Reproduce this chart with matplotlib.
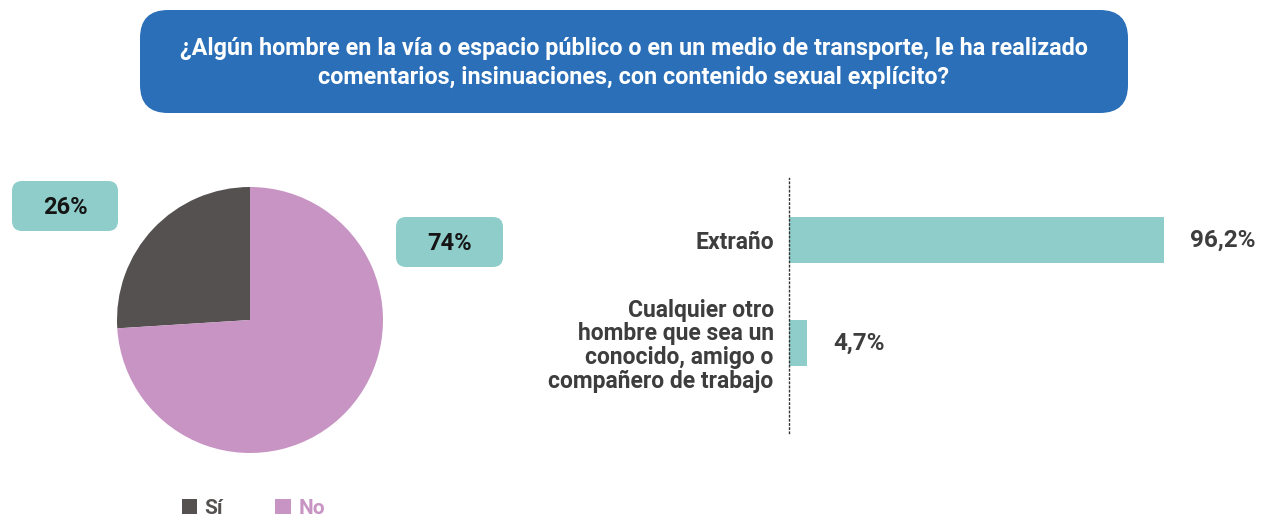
import numpy as np
import matplotlib.pyplot as plt
from matplotlib.patches import FancyBboxPatch

plt.rcParams['font.family'] = ['Roboto', 'DejaVu Sans']

# data
title = "¿Algún hombre en la vía o espacio público o en un medio de transporte, le ha realizado\ncomentarios, insinuaciones, con contenido sexual explícito?"
pie_labels = ["Sí", "No"]
pie_values = [26, 74]
pie_colors = ["#545150", "#c794c4"]

bar_labels = ["Extraño", "Cualquier otro\nhombre que sea un\nconocido, amigo o\ncompañero de trabajo"]
bar_values = [96.2, 4.7]
bar_text = ["96,2%", "4,7%"]

W, H = 1263, 517
teal = "#8ecdc9"
fig = plt.figure(figsize=(W / 100, H / 100), dpi=100)

# background layer in pixel coords
bg = fig.add_axes([0, 0, 1, 1])
bg.set_xlim(0, W)
bg.set_ylim(H, 0)
bg.axis('off')

# title box
bg.add_patch(FancyBboxPatch((140, 10), 988, 103, boxstyle="round,pad=0,rounding_size=28",
                            fc="#2a6fb8", ec="none"))
bg.text(634, 63, title, ha='center', va='center', color='white', fontsize=16.8,
        fontweight='bold', linespacing=1.35)

# pie labels boxes
def label_box(x0, y0, w, h, txt):
    bg.add_patch(FancyBboxPatch((x0, y0), w, h, boxstyle="round,pad=0,rounding_size=10",
                                fc=teal, ec="none"))
    bg.text(x0 + w / 2, y0 + h / 2 + 1, txt, ha='center', va='center', fontsize=17,
            fontweight='bold', color='#151515')

label_box(12, 181, 106, 50, f"{pie_values[0]}%")
label_box(396, 217, 107, 50, f"{pie_values[1]}%")

# pie
cx, cy, r = 250, 320, 133
pax = fig.add_axes([(cx - r) / W, (H - cy - r) / H, 2 * r / W, 2 * r / H])
wedges, _ = pax.pie(pie_values, colors=pie_colors, startangle=90, counterclock=True,
                    radius=1, wedgeprops=dict(linewidth=0))
pax.set_xlim(-1, 1)
pax.set_ylim(-1, 1)
pax.set_aspect('auto')

leg = fig.legend(wedges, pie_labels, loc='center left', bbox_to_anchor=(163 / W, 1 - 508 / H),
                 ncol=2, frameon=False, handlelength=0.75, handleheight=0.75,
                 handletextpad=0.35, columnspacing=2.5, prop=dict(weight='bold', size=15))
for t, c in zip(leg.get_texts(), pie_colors):
    t.set_color(c)

# bars
x_left, y_top, y_bot = 789, 178, 433
px_per_unit = (1164 - 789) / 96.2
bax = fig.add_axes([x_left / W, (H - y_bot) / H, (W - x_left) / W, (y_bot - y_top) / H])
ypos = np.arange(len(bar_values))
bax.barh(ypos, bar_values, height=0.447, color=teal)
bax.set_xlim(0, (W - x_left) / px_per_unit)
bax.set_ylim(1 + 90 / 103, -62 / 103)
for s in ['top', 'right', 'bottom']:
    bax.spines[s].set_visible(False)
bax.spines['left'].set_linestyle((0, (1, 2)))
bax.spines['left'].set_color('#333333')
bax.spines['left'].set_linewidth(1)
bax.set_xticks([])
bax.set_yticks(ypos)
bax.set_yticklabels(bar_labels, fontsize=16.5, fontweight='bold', color='#3d3d3d',
                    linespacing=1.05)
bax.tick_params(axis='y', length=0, pad=11)
bax.patch.set_alpha(0)
for y, v, t in zip(ypos, bar_values, bar_text):
    bax.text(v + 26 / px_per_unit, y, t, va='center', ha='left', fontsize=17.5,
             fontweight='bold', color='#3d3d3d')

fig.savefig("out.png", dpi=100)
